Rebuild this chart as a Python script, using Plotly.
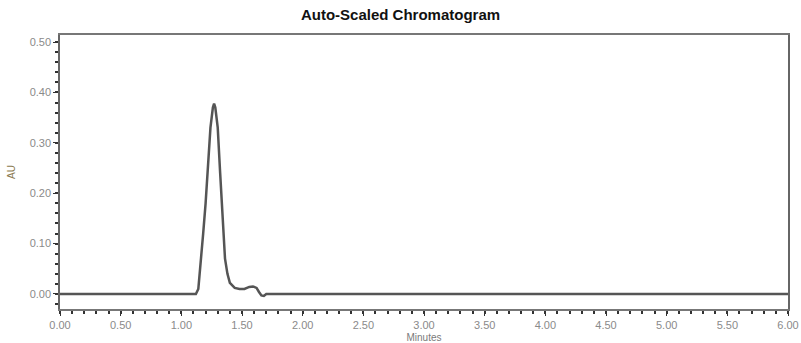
import plotly.graph_objects as go

minutes = [0.0, 1.12, 1.14, 1.16, 1.18, 1.20, 1.22, 1.24, 1.26, 1.27, 1.28, 1.30, 1.32,
           1.34, 1.36, 1.38, 1.40, 1.44, 1.48, 1.52, 1.56, 1.59, 1.62, 1.64, 1.66, 1.68,
           1.70, 6.0]
au = [0.0, 0.0, 0.01, 0.06, 0.12, 0.18, 0.26, 0.33, 0.37, 0.378, 0.37, 0.33, 0.24,
      0.15, 0.07, 0.04, 0.022, 0.012, 0.010, 0.010, 0.014, 0.015, 0.012, 0.004, -0.003,
      -0.004, 0.0, 0.0]

x_ticks = [0, 0.5, 1, 1.5, 2, 2.5, 3, 3.5, 4, 4.5, 5, 5.5, 6]
x_labels = ["0.00", "0.50", "1.00", "1.50", "2.00", "2.50", "3.00", "3.50", "4.00",
            "4.50", "5.00", "5.50", "6.00"]
y_ticks = [0, 0.1, 0.2, 0.3, 0.4, 0.5]
y_labels = ["0.00", "0.10", "0.20", "0.30", "0.40", "0.50"]

fig = go.Figure()
fig.add_trace(go.Scatter(x=minutes, y=au, mode="lines",
                         line=dict(color="#555555", width=2.5), showlegend=False))

font_family = "Liberation Sans, Arial, sans-serif"
fig.update_layout(
    width=801, height=343,
    margin=dict(l=60, r=13, t=35, b=34),
    paper_bgcolor="white", plot_bgcolor="white",
    title=dict(text="<b>Auto-Scaled Chromatogram</b>", x=0.5, xanchor="center",
               y=1 - 15 / 343, yanchor="middle",
               font=dict(family=font_family, size=15, color="#111111")),
    font=dict(family=font_family),
)
fig.update_xaxes(
    range=[0, 6], tickvals=x_ticks, ticktext=x_labels,
    showgrid=False, zeroline=False, automargin=False,
    showline=True, linecolor="#777777", linewidth=1.5, mirror=True,
    ticks="outside", ticklen=5, tickcolor="#333333", tickwidth=1,
    tickfont=dict(size=11, color="#8a8a8a"),
    minor=dict(dtick=0.1, tick0=0, ticks="outside", ticklen=3, tickcolor="#333333", tickwidth=1.5),
    title=dict(text="Minutes", font=dict(size=10, color="#7a7a7a"), standoff=10),
)
fig.update_yaxes(
    range=[-0.0298, 0.514], tickvals=y_ticks, ticktext=y_labels,
    showgrid=False, zeroline=False, automargin=False,
    showline=True, linecolor="#666666", linewidth=1.5, mirror=True,
    ticks="outside", ticklen=5, tickcolor="#333333", tickwidth=1,
    tickfont=dict(size=11, color="#8a8a8a"),
    minor=dict(dtick=0.02, tick0=0, ticks="outside", ticklen=3, tickcolor="#333333", tickwidth=1.5),
    title=dict(text="AU", font=dict(size=10, color="#8a7a50"), standoff=12),
)

fig.write_html("out.html", config={"displayModeBar": False},
               post_script="document.body.style.margin='0';document.body.style.overflow='hidden';")
